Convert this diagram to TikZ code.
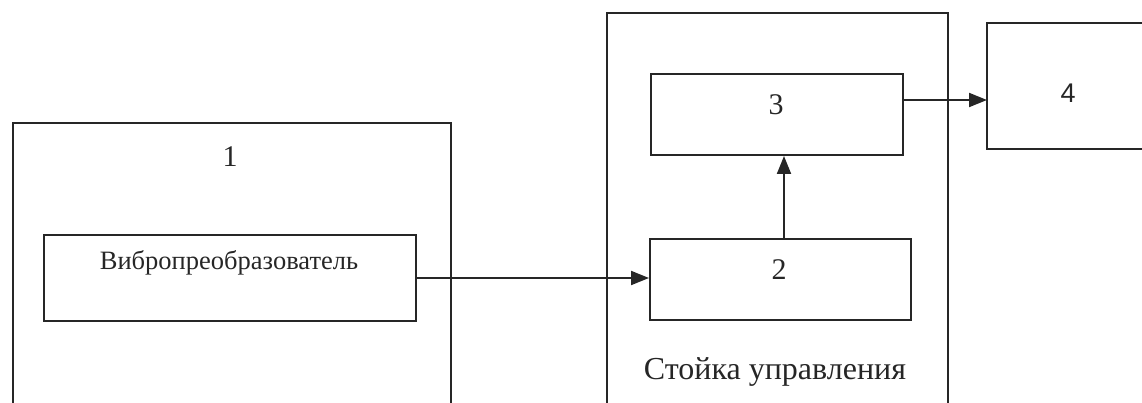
\documentclass[tikz,border=0pt]{standalone}
\usepackage{fontspec}
\setmainfont{Liberation Serif}
\newfontfamily\arialf{Liberation Sans}
\usetikzlibrary{arrows.meta}
\begin{document}
\begin{tikzpicture}[x=1pt,y=-1pt,
  line/.style={line width=2pt,draw=black!85},
  blk/.style={line, rectangle, inner sep=0pt, anchor=north west},
  lbl/.style={inner sep=0pt, text=black!85, font=\fontsize{30}{34}\selectfont},
  arr/.style={line, -{Triangle[length=18pt,width=14pt]}}]
\useasboundingbox (0,0) rectangle (1142,403);
% container 1
\draw[line] (13,403) -- (13,123) -- (451,123) -- (451,403);
\node[lbl] (n1) at (230,157) {1};
% container control
\draw[line] (607,403) -- (607,13) -- (948,13) -- (948,403);
\node[lbl, font=\fontsize{32}{36}\selectfont] (ctl) at (775,372) {Стойка управления};
% inner blocks
\node[blk, minimum width=372pt, minimum height=86pt] (vib) at (43,234) {};
\node[lbl, font=\fontsize{26.5}{30}\selectfont] (vibt) at (229,263) {Вибропреобразователь};
\node[blk, minimum width=252pt, minimum height=81pt] (b3) at (650,73) {};
\node[lbl] (t3) at (776,105) {3};
\node[blk, minimum width=261pt, minimum height=81pt] (b2) at (649,238) {};
\node[lbl] (t2) at (779,270) {2};
% block 4 (open to the right)
\coordinate (b4w) at (987,86);
\draw[line] (1143,23) -- (987,23) -- (987,149) -- (1143,149);
\node[lbl, font=\arialf\fontsize{27}{30}\selectfont] (t4) at (1068,93) {4};
% connectors
\draw[arr] (vib.east) -- (vib.east -| b2.west);
\draw[arr] ([xshift=3.5pt]b2.north) -- ([xshift=3.5pt]b2.north |- b3.south);
\draw[arr] ([yshift=14.5pt]b3.east) -- ([yshift=14.5pt]b3.east -| b4w);
\end{tikzpicture}
\end{document}
